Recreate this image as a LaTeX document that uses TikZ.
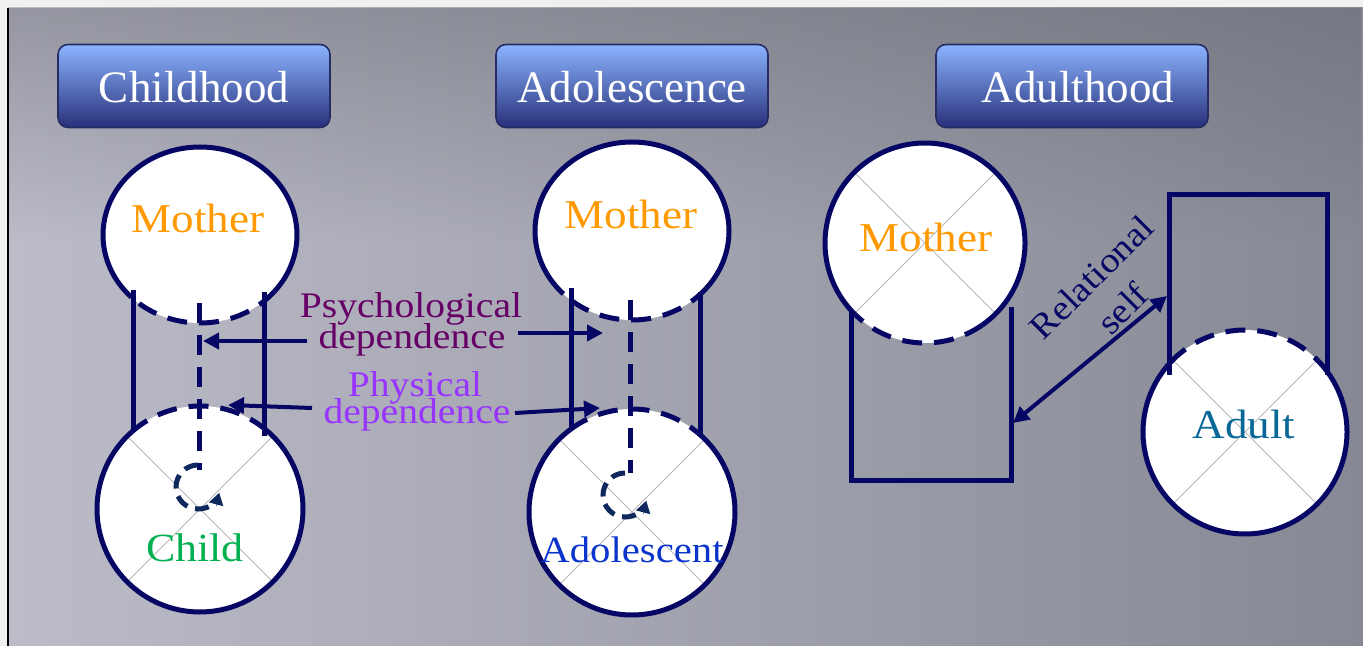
\documentclass[tikz,border=0pt]{standalone}
\usepackage{fontspec}
\setmainfont{Liberation Serif}
\newfontfamily\lblfont[FakeStretch=1.1]{Liberation Serif}
\usetikzlibrary{arrows.meta,fadings}
\definecolor{navy}{RGB}{6,6,100}
\definecolor{loopblue}{RGB}{12,40,92}
\definecolor{motherorange}{RGB}{255,153,0}
\definecolor{childgreen}{RGB}{0,176,80}
\definecolor{adolblue}{RGB}{10,52,204}
\definecolor{adultteal}{RGB}{8,104,152}
\definecolor{psychpurple}{RGB}{102,0,102}
\definecolor{physviolet}{RGB}{153,51,255}
\definecolor{btntop}{RGB}{140,180,255}
\definecolor{btnmid}{RGB}{88,122,220}
\definecolor{btnbot}{RGB}{40,48,122}
\definecolor{btnedge}{RGB}{38,44,100}
\definecolor{bgleft}{RGB}{188,188,200}
\definecolor{bgright}{RGB}{134,137,148}
\definecolor{bgtop}{RGB}{92,95,104}
\newcommand\setsz[1]{\fontsize{#1}{#1}\selectfont}
\tikzfading[name=fadedown, top color=transparent!0, bottom color=transparent!100]
\tikzset{
  outl/.style={draw=navy, line width=2.5pt},
  dsh/.style={dash pattern=on 10pt off 6pt},
  xline/.style={draw=black!28, line width=0.5pt},
  loopst/.style={draw=loopblue, line width=2.5pt, dash pattern=on 7pt off 4pt,
    -{Triangle[length=6pt,width=7pt]}},
  arr/.style={draw=navy, line width=2pt, -{Triangle[length=8pt,width=8pt]}},
  btn/.style={rounded corners=5pt, top color=btntop, middle color=btnmid,
    bottom color=btnbot, draw=btnedge, line width=0.8pt,
    minimum width=136pt, minimum height=41.5pt},
  btntext/.style={inner sep=0pt, anchor=base, text=white, font=\setsz{22.5pt}},
  lbl/.style={inner sep=0pt, anchor=base}
}
\begin{document}
\begin{tikzpicture}[x=0.5pt,y=-0.5pt]
\useasboundingbox (0,0) rectangle (1363,646);
% backdrop
\fill[black!6] (0,0) rectangle (1363,646);
\shade[left color=bgleft, right color=bgright] (8,8) rectangle (1363,646);
\fill[bgtop, opacity=0.4, path fading=fadedown] (8,8) rectangle (1363,240);
\draw[black, line width=1pt] (8,8) -- (8,646);

% stage buttons
\node[btn] (bChild) at (194,86) {};
\node[btn] (bAdol) at (632,86) {};
\node[btn] (bAdult) at (1072,86) {};
\node[btntext] (tChild) at (194,103) {Childhood};
\node[btntext] (tAdol) at (632,103) {Adolescence};
\node[btntext] (tAdult) at (1078,103) {Adulthood};

% ---- childhood: mother above child
\fill[white] (200,235) ellipse [x radius=97, y radius=88];
\draw[outl] (200,235) ++(135:97 and 88) arc[start angle=135, end angle=400, x radius=97, y radius=88];
\draw[outl,dsh] (200,235) ++(40:97 and 88) arc[start angle=40, end angle=135, x radius=97, y radius=88];
\fill[white] (200,509) circle[radius=103];
\draw[xline] (200,509) ++(45:103) -- ++(225:206);
\draw[xline] (200,509) ++(135:103) -- ++(315:206);
\draw[outl] (200,509) ++(310:103) arc[start angle=310, end angle=588, radius=103];
\draw[outl,dsh] (200,509) ++(228:103) arc[start angle=228, end angle=310, radius=103];
\draw[outl] (133,290) -- (133,432);
\draw[outl] (264,292) -- (264,436);
\draw[outl,dsh] (199,303) -- (199,470);
\draw[loopst] (198,487) ++(270:22) arc[start angle=270, end angle=15, radius=22];

% ---- adolescence: mother above adolescent
\fill[white] (632,231) ellipse [x radius=97, y radius=89];
\draw[outl] (632,231) ++(135:97 and 89) arc[start angle=135, end angle=400, x radius=97, y radius=89];
\draw[outl,dsh] (632,231) ++(40:97 and 89) arc[start angle=40, end angle=135, x radius=97, y radius=89];
\fill[white] (632,512) circle[radius=103];
\draw[xline] (632,512) ++(45:103) -- ++(225:206);
\draw[xline] (632,512) ++(135:103) -- ++(315:206);
\draw[outl] (632,512) ++(313:103) arc[start angle=313, end angle=593, radius=103];
\draw[outl,dsh] (632,512) ++(233:103) arc[start angle=233, end angle=313, radius=103];
\draw[outl] (571,288) -- (571,430);
\draw[outl] (700,292) -- (700,435);
\draw[outl,dsh] (630,300) -- (630,473);
\draw[loopst] (625,495) ++(270:22) arc[start angle=270, end angle=15, radius=22];

% ---- adulthood: two separate selves
\fill[white] (925,243) circle[radius=100];
\draw[xline] (925,243) ++(45:100) -- ++(225:200);
\draw[xline] (925,243) ++(135:100) -- ++(315:200);
\draw[outl] (925,243) ++(134:100) arc[start angle=134, end angle=415, radius=100];
\draw[outl,dsh] (925,243) ++(55:100) arc[start angle=55, end angle=134, radius=100];
\fill[white] (1245,432) circle[radius=102];
\draw[xline] (1245,432) ++(45:102) -- ++(225:204);
\draw[xline] (1245,432) ++(135:102) -- ++(315:204);
\draw[outl] (1245,432) ++(315:102) arc[start angle=315, end angle=583, radius=102];
\draw[outl,dsh] (1245,432) ++(223:102) arc[start angle=223, end angle=315, radius=102];
\draw[outl] (851,310) -- (851,480) -- (1011,480) -- (1011,307);
\draw[outl] (1169,375) -- (1169,195) -- (1327,195) -- (1327,375);

% arrow end points
\coordinate (psyL0) at (307,341);
\coordinate (psyL1) at (203,341);
\coordinate (psyR0) at (518,333);
\coordinate (psyR1) at (603,333);
\coordinate (phyL0) at (312,408);
\coordinate (phyL1) at (228,405);
\coordinate (phyR0) at (515,413);
\coordinate (phyR1) at (600,408);
\coordinate (relA) at (1013,423);
\coordinate (relB) at (1167,296);

\draw[arr] (psyL0) -- (psyL1);
\draw[arr] (psyR0) -- (psyR1);
\draw[arr] (phyL0) -- (phyL1);
\draw[arr] (phyR0) -- (phyR1);
\draw[draw=navy, line width=2pt, {Triangle[length=8pt,width=8pt]}-{Triangle[length=8pt,width=8pt]}] (relA) -- (relB);

% labels
\node[lbl, text=motherorange, font={\lblfont\setsz{20.5pt}}] (tM1) at (198,233) {Mother};
\node[lbl, text=childgreen, font={\lblfont\setsz{20pt}}] (tC) at (195,561) {Child};
\node[lbl, text=motherorange, font={\lblfont\setsz{20.5pt}}] (tM2) at (631,229) {Mother};
\node[lbl, text=adolblue, font={\lblfont\setsz{18.5pt}}] (tA) at (632,562) {Adolescent};
\node[lbl, text=motherorange, font={\lblfont\setsz{20.5pt}}] (tM3) at (926,252) {Mother};
\node[lbl, text=adultteal, font={\lblfont\setsz{20.5pt}}] (tAd) at (1244,438) {Adult};
\node[lbl, text=psychpurple, font={\lblfont\setsz{18pt}}] (tPs1) at (411,317) {Psychological};
\node[lbl, text=psychpurple, font={\lblfont\setsz{18pt}}] (tPs2) at (412,349) {dependence};
\node[lbl, text=physviolet, font={\lblfont\setsz{18pt}}] (tPh1) at (415,396) {Physical};
\node[lbl, text=physviolet, font={\lblfont\setsz{18pt}}] (tPh2) at (417,423) {dependence};
\node[text=navy, rotate=45, align=center, inner sep=0pt,
  font={\lblfont\fontsize{17.5pt}{22pt}\selectfont}] (tRel) at (1107,293) {Relational\\self};
\end{tikzpicture}
\end{document}
